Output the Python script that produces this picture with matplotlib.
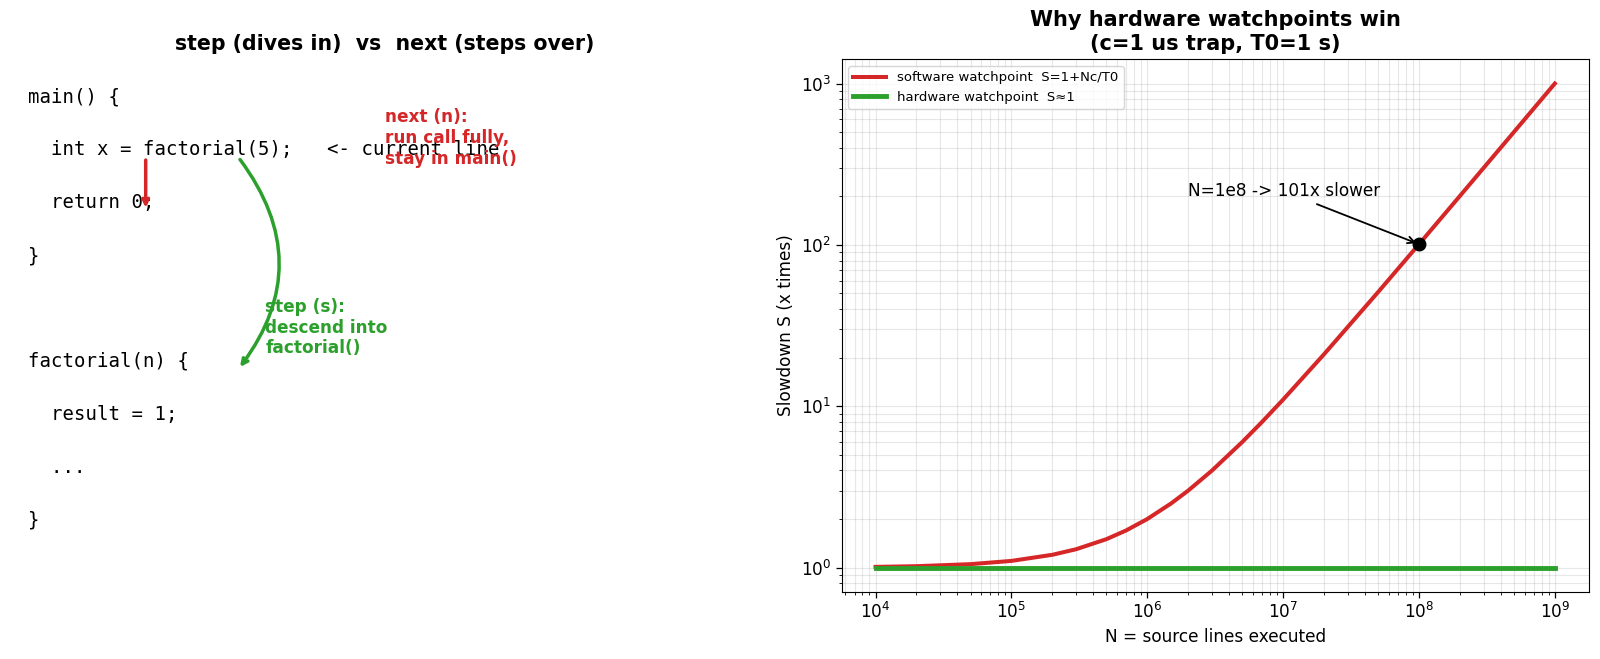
import matplotlib
matplotlib.use("Agg")
import matplotlib.pyplot as plt

# ---------------- data ----------------
code_lines = [
    "main() {",
    "  int x = factorial(5);   <- current line",
    "  return 0;",
    "}",
    "",
    "factorial(n) {",
    "  result = 1;",
    "  ...",
    "}",
]
left_title = "step (dives in)  vs  next (steps over)"
next_label = "next (n):\nrun call fully,\nstay in main()"
step_label = "step (s):\ndescend into\nfactorial()"

N_values = [1e4, 2e4, 5e4, 1e5, 2e5, 3e5, 5e5, 7e5, 1e6, 1.5e6, 2e6, 3e6,
            5e6, 7e6, 1e7, 2e7, 5e7, 1e8, 2e8, 5e8, 1e9]
software_S = [1.01, 1.02, 1.05, 1.1, 1.2, 1.3, 1.5, 1.7, 2.0, 2.5, 3.0, 4.0,
              6.0, 8.0, 11.0, 21.0, 51.0, 101.0, 201.0, 501.0, 1001.0]
hardware_N = [1e4, 1e9]
hardware_S = [1.0, 1.0]
marker_N = 1e8
marker_S = 101.0
annot_text = "N=1e8 -> 101x slower"
annot_xy_text = (2e6, 200)

RED = "#d62728"
GREEN = "#2ca02c"

fig = plt.figure(figsize=(16, 6.59), dpi=100)

# ---------------- left panel ----------------
axL = fig.add_axes([0.007, 0.102, 0.467, 0.808])
axL.set_xlim(0, 1)
axL.set_ylim(0, 1)
axL.axis("off")
axL.set_title(left_title, fontsize=14.8, fontweight="bold", pad=7)
y0, dy = 0.93, 0.0995
for i, line in enumerate(code_lines):
    axL.text(0.0225, y0 - i * dy, line, family="DejaVu Sans Mono",
             fontsize=13.7, va="center", ha="left")

# red "next" arrow
axL.annotate("", xy=(0.180, 0.716), xytext=(0.180, 0.816),
             arrowprops=dict(arrowstyle="->", color=RED, lw=2.5))
axL.text(0.50, 0.908, next_label, color=RED, fontsize=12.2,
         fontweight="bold", va="top", ha="left")

# green "step" arrow
axL.annotate("", xy=(0.304, 0.418), xytext=(0.304, 0.816),
             arrowprops=dict(arrowstyle="->", color=GREEN, lw=2.5,
                             connectionstyle="arc3,rad=-0.38"))
axL.text(0.34, 0.552, step_label, color=GREEN, fontsize=12.2,
         fontweight="bold", va="top", ha="left")

# ---------------- right panel ----------------
axR = fig.add_axes([0.526, 0.102, 0.467, 0.808])
axR.plot(N_values, software_S, color=RED, lw=2.9,
         label="software watchpoint  S=1+Nc/T0")
axR.plot(hardware_N, hardware_S, color=GREEN, lw=3.5,
         label="hardware watchpoint  S\u22481")
axR.set_xscale("log")
axR.set_yscale("log")
axR.plot([marker_N], [marker_S], "o", color="black", ms=9)
axR.annotate(annot_text, xy=(marker_N, marker_S), xytext=annot_xy_text,
             fontsize=12.2, arrowprops=dict(arrowstyle="->", color="black", lw=1.3))
axR.grid(True, which="both", alpha=0.3)
axR.set_xlabel("N = source lines executed", fontsize=12.2)
axR.set_ylabel("Slowdown S (x times)", fontsize=12.2)
axR.set_title("Why hardware watchpoints win\n(c=1 us trap, T0=1 s)",
              fontsize=15, fontweight="bold", pad=7)
axR.tick_params(labelsize=12.2, length=4, width=0.9)
axR.tick_params(which="minor", length=2.3)
axR.legend(loc="upper left", fontsize=9.5, handlelength=2.5)

fig.savefig("out.png", dpi=100)
